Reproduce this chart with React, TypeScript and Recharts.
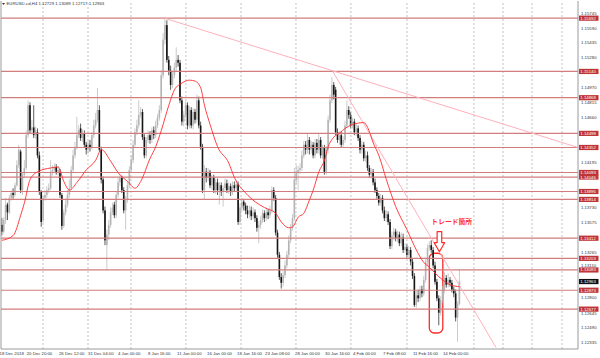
import React from 'react';
import { ComposedChart, Bar, Line, XAxis, YAxis, ReferenceLine, ReferenceArea, ReferenceDot } from 'recharts';

const opens = [1.1355,1.1348,1.1360,1.1376,1.1368,1.1383,1.1388,1.1386,1.1396,1.1417,
1.1431,1.1391,1.1407,1.1414,1.1448,1.1479,1.1453,1.1456,1.1448,1.1451,
1.1427,1.1389,1.1360,1.1383,1.1386,1.1391,1.1393,1.1410,1.1412,1.1415,
1.1410,1.1410,1.1386,1.1354,1.1368,1.1376,1.1386,1.1393,1.1412,1.1427,
1.1435,1.1448,1.1455,1.1445,1.1450,1.1438,1.1433,1.1438,1.1435,1.1448,
1.1458,1.1464,1.1474,1.1433,1.1402,1.1370,1.1334,1.1345,1.1355,1.1368,
1.1376,1.1365,1.1386,1.1399,1.1404,1.1391,1.1370,1.1381,1.1396,1.1412,
1.1422,1.1438,1.1451,1.1458,1.1469,1.1472,1.1446,1.1427,1.1443,1.1448,
1.1443,1.1453,1.1448,1.1458,1.1466,1.1474,1.1510,1.1547,1.1562,1.1526,
1.1515,1.1500,1.1510,1.1518,1.1526,1.1523,1.1484,1.1462,1.1469,1.1479,
1.1458,1.1474,1.1458,1.1472,1.1464,1.1484,1.1458,1.1436,1.1391,1.1410,
1.1404,1.1410,1.1396,1.1404,1.1391,1.1399,1.1391,1.1396,1.1389,1.1393,
1.1398,1.1391,1.1395,1.1389,1.1396,1.1393,1.1397,1.1358,1.1373,1.1379,
1.1375,1.1370,1.1366,1.1370,1.1364,1.1368,1.1362,1.1352,1.1355,1.1360,
1.1367,1.1362,1.1368,1.1365,1.1370,1.1391,1.1383,1.1347,1.1324,1.1301,
1.1295,1.1303,1.1313,1.1324,1.1339,1.1352,1.1362,1.1402,1.1410,1.1412,
1.1414,1.1427,1.1438,1.1433,1.1443,1.1433,1.1438,1.1427,1.1440,1.1433,
1.1443,1.1427,1.1435,1.1410,1.1433,1.1464,1.1484,1.1500,1.1495,1.1451,
1.1443,1.1448,1.1438,1.1443,1.1458,1.1474,1.1469,1.1458,1.1462,1.1451,
1.1455,1.1445,1.1433,1.1438,1.1424,1.1427,1.1414,1.1407,1.1410,1.1399,
1.1391,1.1385,1.1378,1.1383,1.1370,1.1362,1.1366,1.1358,1.1333,1.1344,
1.1348,1.1341,1.1345,1.1336,1.1342,1.1329,1.1332,1.1324,1.1329,1.1317,
1.1302,1.1272,1.1282,1.1279,1.1288,1.1284,1.1298,1.1317,1.1331,1.1334,
1.1329,1.1313,1.1296,1.1279,1.1264,1.1277,1.1288,1.1300,1.1293,1.1298,
1.1295,1.1288,1.1284,1.1259,1.12729];

const highs = [1.1362,1.1363,1.1383,1.1378,1.1386,1.1391,1.1393,1.1399,1.1422,1.1438,
1.1433,1.1410,1.1422,1.1453,1.1484,1.1482,1.1464,1.1479,1.1457,1.1455,
1.1431,1.1391,1.1385,1.1391,1.1395,1.1398,1.1422,1.1417,1.1419,1.1418,
1.1416,1.1413,1.1388,1.1371,1.1381,1.1391,1.1402,1.1416,1.1433,1.1441,
1.1467,1.1458,1.1460,1.1454,1.1453,1.1441,1.1442,1.1443,1.1451,1.1464,
1.1471,1.1497,1.1479,1.1436,1.1405,1.1374,1.1350,1.1360,1.1373,1.1378,
1.1379,1.1389,1.1404,1.1408,1.1406,1.1394,1.1385,1.1400,1.1416,1.1427,
1.1443,1.1455,1.1464,1.1484,1.1477,1.1475,1.1449,1.1446,1.1453,1.1452,
1.1456,1.1457,1.1463,1.1470,1.1479,1.1515,1.1554,1.1569,1.1567,1.1530,
1.1520,1.1514,1.1523,1.1539,1.1531,1.1526,1.1488,1.1473,1.1483,1.1482,
1.1478,1.1477,1.1476,1.1475,1.1490,1.1488,1.1462,1.1439,1.1417,1.1414,
1.1414,1.1412,1.1407,1.1407,1.1403,1.1403,1.1399,1.1399,1.1396,1.1403,
1.1402,1.1399,1.1398,1.1400,1.1400,1.1402,1.1400,1.1377,1.1383,1.1382,
1.1378,1.1375,1.1375,1.1374,1.1373,1.1371,1.1365,1.1359,1.1364,1.1371,
1.1370,1.1373,1.1371,1.1375,1.1395,1.1394,1.1386,1.1350,1.1327,1.1305,
1.1307,1.1318,1.1328,1.1344,1.1356,1.1366,1.1414,1.1417,1.1416,1.1419,
1.1432,1.1442,1.1442,1.1450,1.1446,1.1442,1.1441,1.1444,1.1444,1.1450,
1.1446,1.1438,1.1438,1.1437,1.1468,1.1490,1.1508,1.1503,1.1498,1.1455,
1.1452,1.1452,1.1447,1.1463,1.1484,1.1478,1.1472,1.1466,1.1465,1.1460,
1.1458,1.1448,1.1442,1.1441,1.1432,1.1431,1.1417,1.1414,1.1413,1.1403,
1.1394,1.1388,1.1387,1.1386,1.1374,1.1370,1.1369,1.1361,1.1348,1.1352,
1.1351,1.1349,1.1348,1.1347,1.1346,1.1336,1.1335,1.1333,1.1332,1.1320,
1.1305,1.1287,1.1288,1.1292,1.1292,1.1302,1.1321,1.1335,1.1338,1.1339,
1.1332,1.1317,1.1299,1.1282,1.1281,1.1292,1.1306,1.1303,1.1305,1.1301,
1.1298,1.1291,1.1288,1.1276,1.13089];

const lows = [1.1344,1.1346,1.1356,1.1360,1.1366,1.1380,1.1382,1.1384,1.1394,1.1414,
1.1388,1.1386,1.1404,1.1412,1.1445,1.1450,1.1449,1.1445,1.1444,1.1424,
1.1386,1.1353,1.1357,1.1380,1.1383,1.1388,1.1391,1.1406,1.1409,1.1407,
1.1406,1.1383,1.1350,1.1352,1.1365,1.1373,1.1383,1.1391,1.1409,1.1424,
1.1433,1.1445,1.1442,1.1441,1.1435,1.1428,1.1429,1.1431,1.1433,1.1445,
1.1455,1.1461,1.1431,1.1398,1.1367,1.1334,1.1308,1.1339,1.1352,1.1365,
1.1362,1.1362,1.1383,1.1395,1.1388,1.1367,1.1350,1.1378,1.1393,1.1409,
1.1419,1.1435,1.1448,1.1455,1.1466,1.1443,1.1424,1.1424,1.1440,1.1439,
1.1440,1.1444,1.1445,1.1455,1.1463,1.1471,1.1507,1.1542,1.1523,1.1510,
1.1495,1.1497,1.1507,1.1514,1.1519,1.1481,1.1458,1.1457,1.1466,1.1454,
1.1455,1.1455,1.1454,1.1460,1.1461,1.1455,1.1433,1.1388,1.1381,1.1399,
1.1400,1.1393,1.1391,1.1388,1.1387,1.1386,1.1376,1.1385,1.1374,1.1390,
1.1388,1.1387,1.1385,1.1386,1.1389,1.1390,1.1355,1.1355,1.1369,1.1370,
1.1366,1.1362,1.1362,1.1360,1.1361,1.1358,1.1348,1.1336,1.1351,1.1357,
1.1358,1.1359,1.1361,1.1362,1.1367,1.1380,1.1344,1.1321,1.1298,1.1289,
1.1291,1.1300,1.1310,1.1321,1.1336,1.1349,1.1359,1.1397,1.1391,1.1408,
1.1411,1.1424,1.1428,1.1429,1.1428,1.1429,1.1424,1.1424,1.1429,1.1429,
1.1424,1.1423,1.1407,1.1407,1.1429,1.1461,1.1481,1.1485,1.1448,1.1440,
1.1438,1.1435,1.1436,1.1440,1.1455,1.1465,1.1455,1.1455,1.1448,1.1447,
1.1442,1.1429,1.1429,1.1421,1.1420,1.1411,1.1404,1.1403,1.1396,1.1388,
1.1382,1.1375,1.1375,1.1367,1.1359,1.1358,1.1355,1.1330,1.1330,1.1339,
1.1338,1.1337,1.1333,1.1333,1.1326,1.1326,1.1321,1.1321,1.1313,1.1299,
1.1270,1.1269,1.1275,1.1276,1.1280,1.1281,1.1295,1.1313,1.1328,1.1326,
1.1310,1.1293,1.1276,1.1251,1.1261,1.1274,1.1284,1.1290,1.1290,1.1291,
1.1285,1.1280,1.1255,1.1234,1.12717];

const closes = [1.1348,1.1360,1.1376,1.1368,1.1383,1.1388,1.1386,1.1396,1.1417,1.1433,
1.1391,1.1407,1.1414,1.1448,1.1479,1.1453,1.1456,1.1448,1.1453,1.1427,
1.1389,1.1358,1.1383,1.1386,1.1391,1.1393,1.1410,1.1412,1.1415,1.1410,
1.1412,1.1386,1.1354,1.1368,1.1376,1.1386,1.1393,1.1412,1.1427,1.1435,
1.1448,1.1453,1.1445,1.1450,1.1438,1.1433,1.1438,1.1435,1.1448,1.1458,
1.1464,1.1474,1.1433,1.1402,1.1370,1.1339,1.1345,1.1355,1.1368,1.1373,
1.1365,1.1386,1.1399,1.1404,1.1391,1.1370,1.1381,1.1396,1.1412,1.1422,
1.1438,1.1451,1.1458,1.1469,1.1472,1.1446,1.1427,1.1443,1.1448,1.1443,
1.1453,1.1448,1.1458,1.1466,1.1474,1.1510,1.1547,1.1562,1.1526,1.1515,
1.1500,1.1510,1.1518,1.1526,1.1523,1.1484,1.1462,1.1469,1.1479,1.1458,
1.1474,1.1458,1.1472,1.1464,1.1484,1.1458,1.1436,1.1391,1.1410,1.1404,
1.1410,1.1396,1.1404,1.1391,1.1399,1.1391,1.1396,1.1389,1.1393,1.1398,
1.1391,1.1395,1.1389,1.1396,1.1393,1.1397,1.1358,1.1373,1.1379,1.1375,
1.1370,1.1366,1.1370,1.1364,1.1368,1.1362,1.1352,1.1355,1.1360,1.1367,
1.1362,1.1368,1.1365,1.1370,1.1391,1.1383,1.1347,1.1324,1.1301,1.1295,
1.1303,1.1313,1.1324,1.1339,1.1352,1.1362,1.1402,1.1410,1.1412,1.1414,
1.1427,1.1438,1.1433,1.1443,1.1433,1.1438,1.1427,1.1440,1.1433,1.1443,
1.1427,1.1435,1.1410,1.1433,1.1464,1.1484,1.1500,1.1490,1.1451,1.1443,
1.1448,1.1438,1.1443,1.1458,1.1474,1.1469,1.1458,1.1462,1.1451,1.1455,
1.1445,1.1433,1.1438,1.1424,1.1427,1.1414,1.1407,1.1410,1.1399,1.1391,
1.1385,1.1378,1.1383,1.1370,1.1362,1.1366,1.1358,1.1333,1.1344,1.1348,
1.1341,1.1345,1.1336,1.1342,1.1329,1.1332,1.1324,1.1329,1.1317,1.1302,
1.1272,1.1282,1.1279,1.1288,1.1284,1.1298,1.1317,1.1331,1.1334,1.1329,
1.1313,1.1296,1.1279,1.1264,1.1277,1.1288,1.1300,1.1293,1.1298,1.1295,
1.1288,1.1284,1.1259,1.1273,1.12963];

const maBars = [0,6,10,12,15,19,26,30,33,36,40,45,50,53,58,62,67,71,74,79,82,85,89,92,96,100,103,106,108,111,115,121,124,130,135,140,146,149,153,155,158,161,164,166,169,172,174,177,180,183,187,193,195,198,201,205,210,216,221,225,228,231,235,239,244];
const maValues = [1.1339,1.1344,1.1365,1.1378,1.1402,1.1410,1.1414,1.1415,1.1400,1.1391,1.1399,1.1412,1.1422,1.1433,1.1421,1.1409,1.1400,1.1393,1.1400,1.1424,1.1436,1.1453,1.1479,1.1495,1.1502,1.1505,1.1504,1.1497,1.1479,1.1459,1.1436,1.1419,1.1404,1.1388,1.1379,1.1373,1.1367,1.1358,1.1352,1.1353,1.1363,1.1367,1.1381,1.1391,1.1410,1.1422,1.1436,1.1446,1.1450,1.1455,1.1459,1.1461,1.1456,1.1440,1.1427,1.1402,1.1374,1.1350,1.1329,1.1316,1.1311,1.1305,1.1298,1.1293,1.1291];

const levelPrices = [1.15692,1.1514,1.14868,1.14498,1.14352,1.14093,1.14046,1.13896,1.13814,1.13412,1.13203,1.13083,1.12873,1.12677];
const currentPrice = 1.12963;
const priceTicks = [1.15745,1.1559,1.15435,1.1528,1.1497,1.14815,1.1466,1.14195,1.1373,1.13575,1.13265,1.1311,1.128,1.12645,1.1249,1.12335];
const priceTickNudge: Record<string, number> = { '1.13110': -1.8, '1.12645': 1.2 };
const timeTickBars = [-0.5,13.2,30.4,45.9,61.9,77.9,93.4,109.4,125.4,140.3,156.3,172.3,187.2,203.2,219.2,235.2];
const timeTickLabels = ['18 Dec 2018','20 Dec 20:00','26 Dec 12:00','31 Dec 04:00','4 Jan 00:00','8 Jan 16:00','11 Jan 00:00','16 Jan 00:00','18 Jan 16:00','23 Jan 08:00','28 Jan 00:00','30 Jan 16:00','4 Feb 00:00','7 Feb 08:00','11 Feb 16:00','14 Feb 00:00'];
const separatorBars = [21.9,45.9,68.8,98.1,127.5,156.8,186.1,216,251.7,267.2,282.7,298.7];
const trendLineA = [{ x: 87, y: 1.1569 }, { x: 307.2, y: 1.14352 }];
const trendLineB = [{ x: 176.4, y: 1.1514 }, { x: 263.5, y: 1.1228 }];
const headerText = 'EURUSD-cd,H4  1.12729 1.13089 1.12717 1.12963';
const noteText = 'トレード箇所';
const notePos = { x: 229.0, y: 1.1358 };
const arrowPos = { x: 233.3, y: 1.13376 };
const boxArea = { x1: 227.9, x2: 235.1, y1: 1.1243, y2: 1.13256 };

const X_DOMAIN: [number, number] = [-0.5, 307.2];
const Y_DOMAIN: [number, number] = [1.12264, 1.1587];
const FONT = '"Liberation Sans", Arial, sans-serif';

const maByBar = new Map<number, number>(maBars.map((b, k) => [b, maValues[k]]));
const data = opens.map((o, i) => ({
  i,
  o,
  h: highs[i],
  l: lows[i],
  c: closes[i],
  range: [lows[i], highs[i]],
  ma: maByBar.has(i) ? maByBar.get(i) : null,
}));

function Candle(props: any) {
  const { x, y, width, height, payload } = props;
  if (!payload || height == null) return null;
  const { o, h, l, c } = payload;
  const cx = x + width / 2;
  const k = h > l ? height / (h - l) : 0;
  const top = y + (h - Math.max(o, c)) * k;
  const bottom = y + (h - Math.min(o, c)) * k;
  const up = c >= o;
  const col = up ? '#b4b4b4' : '#151515';
  return (
    <g>
      <line x1={cx} x2={cx} y1={y} y2={y + height} stroke={col} strokeWidth={0.7} />
      <rect x={cx - 0.8} y={top} width={1.6} height={Math.max(bottom - top, 0.7)} fill={col} />
    </g>
  );
}

function LevelTag(props: any) {
  const vb = props.viewBox || {};
  const right = (vb.x ?? 0) + (vb.width ?? 0);
  const cy = vb.y ?? 0;
  return (
    <g>
      <rect x={right + 1} y={cy - 2.6} width={19.5} height={5.2} fill={props.bg} />
      <text x={right + 2.3} y={cy + 1.5} fontSize={4.3} fill="#ffffff" fontFamily={FONT}>{props.text}</text>
    </g>
  );
}

function PriceTick(props: any) {
  const { x, y, payload } = props;
  const label = Number(payload.value).toFixed(5);
  const nudge = priceTickNudge[label] ?? 0;
  return (
    <text x={x + 3} y={y + 1.5 + nudge} fontSize={4.3} fill="#333333" fontFamily={FONT}>
      {label}
    </text>
  );
}

function TimeTick(props: any) {
  const { x, y, payload } = props;
  const idx = timeTickBars.indexOf(payload.value);
  return (
    <text x={idx === 0 ? x - 1.5 : x} y={y + 6} fontSize={4.3} fill="#333333" fontFamily={FONT} textAnchor="start">
      {timeTickLabels[idx]}
    </text>
  );
}

function NoteShape(props: any) {
  const { cx, cy } = props;
  return (
    <text x={cx} y={cy + 2.4} fontSize={6.8} fontWeight="bold" fill="#ff3030" fontFamily='"Noto Sans CJK JP", sans-serif'>
      {noteText}
    </text>
  );
}

function ArrowShape(props: any) {
  const { cx, cy } = props;
  const d = `M ${cx - 2.3} ${cy - 10} L ${cx + 2.3} ${cy - 10} L ${cx + 2.3} ${cy + 1} L ${cx + 5.2} ${cy + 1} L ${cx} ${cy + 10} L ${cx - 5.2} ${cy + 1} L ${cx - 2.3} ${cy + 1} Z`;
  return <path d={d} fill="#ffffff" stroke="#ff2a2a" strokeWidth={1.2} strokeLinejoin="round" />;
}

function RoundBox(props: any) {
  const { x, y, width, height } = props;
  return <rect x={x} y={y} width={width} height={height} rx={5} ry={5} fill="none" stroke="#ff2a2a" strokeWidth={1.3} />;
}

export default function App() {
  return (
    <div style={{ position: 'absolute', left: 0, top: 0, width: 600, height: 358, background: '#ffffff', overflow: 'hidden' }}>
      <ComposedChart width={600} height={358} data={data} margin={{ top: 1, right: 0, bottom: 0, left: 1 }}>
        <XAxis
          type="number"
          dataKey="i"
          domain={X_DOMAIN}
          allowDataOverflow
          ticks={timeTickBars}
          interval={0}
          tick={<TimeTick />}
          tickLine={false}
          tickSize={0}
          tickMargin={0}
          height={9}
          axisLine={{ stroke: '#9a9a9a' }}
        />
        <YAxis
          orientation="right"
          type="number"
          domain={Y_DOMAIN}
          allowDataOverflow
          ticks={priceTicks}
          interval={0}
          tick={<PriceTick />}
          tickLine={false}
          tickSize={0}
          tickMargin={0}
          width={22}
          axisLine={{ stroke: '#9a9a9a' }}
        />
        <ReferenceLine x={X_DOMAIN[0]} stroke="#9a9a9a" />
        {separatorBars.map((b) => (
          <ReferenceLine key={'s' + b} x={b} stroke="#b4b4b4" strokeWidth={0.8} strokeDasharray="2 2" />
        ))}
        {levelPrices.map((v) => (
          <ReferenceLine
            key={'l' + v}
            y={v}
            stroke="#d27d7d"
            strokeWidth={1.2}
            label={<LevelTag text={v.toFixed(5)} bg="#bf3535" />}
          />
        ))}
        <ReferenceLine y={currentPrice} stroke="none" label={<LevelTag text={currentPrice.toFixed(5)} bg="#111111" />} />
        <ReferenceLine segment={trendLineA} stroke="#ffb0bc" strokeWidth={1} />
        <ReferenceLine segment={trendLineB} stroke="#ffb0bc" strokeWidth={1} />
        <Bar dataKey="range" barSize={2} shape={<Candle />} isAnimationActive={false} />
        <Line
          dataKey="ma"
          type="monotone"
          connectNulls
          dot={false}
          activeDot={false}
          stroke="#ff2b2b"
          strokeWidth={0.9}
          isAnimationActive={false}
        />
        <ReferenceArea
          x1={boxArea.x1}
          x2={boxArea.x2}
          y1={boxArea.y1}
          y2={boxArea.y2}
          shape={(p: any) => <RoundBox {...p} />}
        />
        <ReferenceDot x={arrowPos.x} y={arrowPos.y} r={1} shape={(p: any) => <ArrowShape {...p} />} />
        <ReferenceDot x={notePos.x} y={notePos.y} r={1} shape={(p: any) => <NoteShape {...p} />} />
      </ComposedChart>
      <svg width={600} height={10} style={{ position: 'absolute', left: 0, top: 0 }}>
        <path d="M 2 3 L 5 3 L 3.5 5 Z" fill="#333333" />
        <text x={6.5} y={5.2} fontSize={4.3} fill="#333333" fontFamily={FONT}>{headerText}</text>
      </svg>
    </div>
  );
}
